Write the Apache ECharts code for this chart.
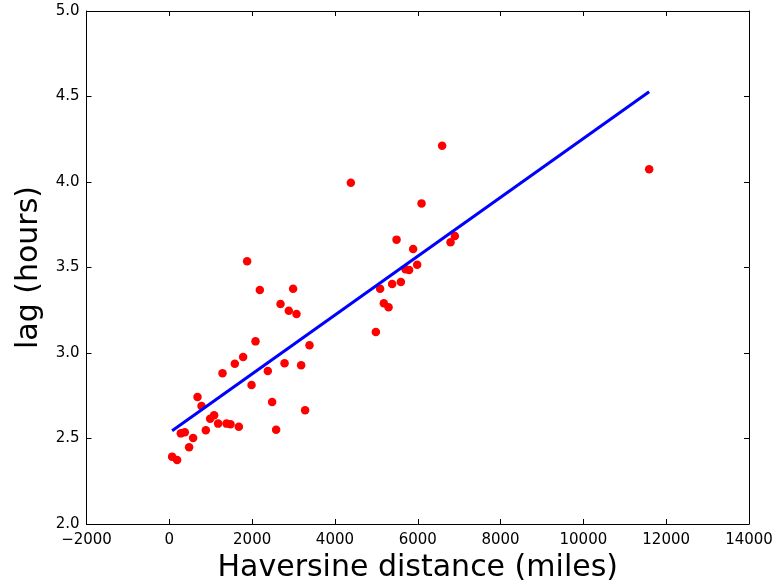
<!DOCTYPE html>
<html>
<head>
<meta charset="utf-8">
<script src="https://cdn.jsdelivr.net/npm/echarts@6/dist/echarts.min.js"></script>
<style>
  html, body { margin: 0; padding: 0; background: #ffffff; }
  #chart { width: 777px; height: 581px; }
</style>
</head>
<body>
<div id="chart"></div>
<script>
// Distance between locations (miles) and the observed lag (hours)
var distanceMiles = [
  68, 188, 278, 374, 478, 575, 681, 778, 882, 986,
  1082, 1179, 1285, 1382, 1478, 1582, 1679, 1783, 1879, 1986,
  2082, 2186, 2379, 2483, 2580, 2686, 2783, 2886, 2990, 3072,
  3184, 3280, 3386, 4384, 4988, 5092, 5181, 5295, 5382, 5488,
  5592, 5705, 5792, 5889, 5986, 6092, 6589, 6792, 6896, 11589
];
var lagHours = [
  2.394, 2.374, 2.530, 2.536, 2.449, 2.503, 2.743, 2.690, 2.548, 2.616,
  2.636, 2.587, 2.881, 2.587, 2.583, 2.937, 2.569, 2.977, 3.536, 2.813,
  3.068, 3.368, 2.895, 2.713, 2.551, 3.287, 2.940, 3.247, 3.376, 3.228,
  2.928, 2.665, 3.045, 3.996, 3.123, 3.376, 3.291, 3.267, 3.404, 3.663,
  3.415, 3.490, 3.485, 3.608, 3.516, 3.875, 4.212, 3.647, 3.684, 4.074
];
// Least-squares fit line, end points
var fitX = [68, 11589];
var fitY = [2.545, 4.528];

var xTicks = { min: -2000, max: 14000, interval: 2000 };
var yTicks = { min: 2.0, max: 5.0, interval: 0.5 };

var points = distanceMiles.map(function (d, i) { return [d, lagHours[i]]; });
var fitLine = fitX.map(function (d, i) { return [d, fitY[i]]; });

var font = 'DejaVu Sans';
var axisLine = { show: true, onZero: false, lineStyle: { color: '#000', width: 1 } };
var tickIn = { show: true, inside: true, length: 5, lineStyle: { color: '#000', width: 1 } };

function fmtX(v) { return v < 0 ? '\u2212' + Math.abs(v) : String(v); }

var chart = echarts.init(document.getElementById('chart'), null, { renderer: 'canvas' });
chart.setOption({
  animation: false,
  backgroundColor: '#ffffff',
  grid: { left: 86.5, right: 28, top: 11, bottom: 57, containLabel: false, outerBoundsMode: 'none' },
  xAxis: [{
    type: 'value', position: 'bottom',
    min: xTicks.min, max: xTicks.max, interval: xTicks.interval,
    axisLine: axisLine, axisTick: tickIn, splitLine: { show: false },
    axisLabel: { color: '#000', fontFamily: font, fontSize: 15, margin: 9, formatter: fmtX },
    name: 'Haversine distance (miles)', nameLocation: 'middle', nameGap: 25,
    nameTextStyle: { color: '#000', fontFamily: font, fontSize: 30 }
  }, {
    type: 'value', position: 'top',
    min: xTicks.min, max: xTicks.max, interval: xTicks.interval,
    axisLine: axisLine, axisTick: tickIn, splitLine: { show: false },
    axisLabel: { show: false }
  }],
  yAxis: [{
    type: 'value', position: 'left',
    min: yTicks.min, max: yTicks.max, interval: yTicks.interval,
    axisLine: axisLine, axisTick: tickIn, splitLine: { show: false },
    axisLabel: { color: '#000', fontFamily: font, fontSize: 15, margin: 7,
      formatter: function (v) { return v.toFixed(1); } },
    name: 'lag (hours)', nameLocation: 'middle', nameGap: 42,
    nameTextStyle: { color: '#000', fontFamily: font, fontSize: 30 }
  }, {
    type: 'value', position: 'right',
    min: yTicks.min, max: yTicks.max, interval: yTicks.interval,
    axisLine: axisLine, axisTick: tickIn, splitLine: { show: false },
    axisLabel: { show: false }
  }],
  series: [{
    type: 'scatter', xAxisIndex: 0, yAxisIndex: 0,
    data: points, symbol: 'circle', symbolSize: 8.5,
    itemStyle: { color: '#ff0000', opacity: 1 }, z: 2
  }, {
    type: 'line', xAxisIndex: 0, yAxisIndex: 0,
    data: fitLine, showSymbol: false, symbol: 'none',
    lineStyle: { color: '#0000ff', width: 3 }, z: 3
  }]
});
</script>
</body>
</html>
